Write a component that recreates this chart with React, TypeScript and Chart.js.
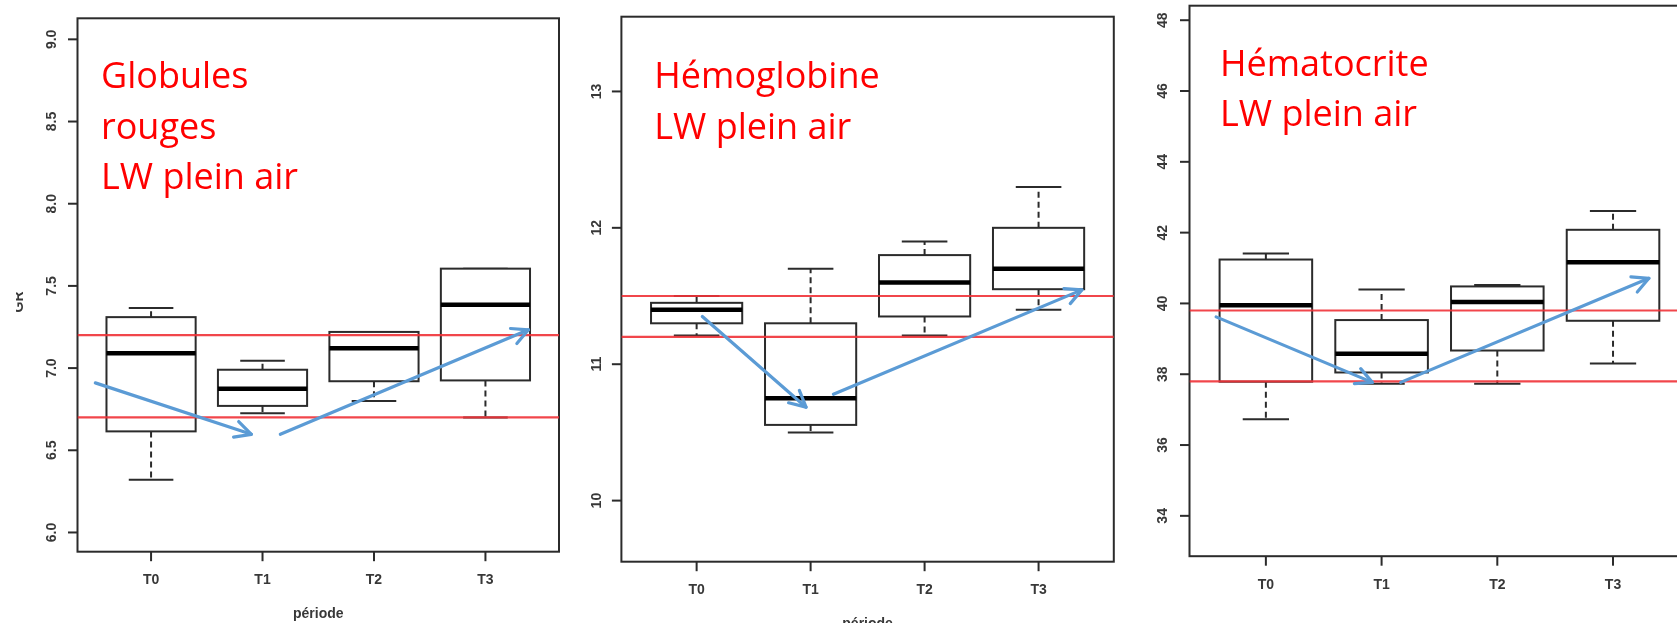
import React, { useEffect, useRef } from "react";
import { Chart, registerables } from "chart.js";

Chart.register(...registerables);

// ---------------- DATA ----------------
const categories = ["T0", "T1", "T2", "T3"];
const catPositions = [1, 2, 3, 4];

// Globules rouges
const grMin = [6.32, 6.725, 6.8, 6.7];
const grQ1 = [6.615, 6.77, 6.92, 6.925];
const grMedian = [7.09, 6.875, 7.12, 7.385];
const grQ3 = [7.31, 6.99, 7.22, 7.605];
const grMax = [7.365, 7.045, 7.22, 7.605];
const grRefLines = [7.2, 6.7];
const grTicks = [6.0, 6.5, 7.0, 7.5, 8.0, 8.5, 9.0];
const grTickLabels = ["6.0", "6.5", "7.0", "7.5", "8.0", "8.5", "9.0"];
const grArrow1 = [{ x: 0.5, y: 6.91 }, { x: 1.9, y: 6.597 }];
const grArrow2 = [{ x: 2.16, y: 6.597 }, { x: 4.386, y: 7.233 }];
const grTitle = ["Globules", "rouges", "LW plein air"];

// Hémoglobine
const hbMin = [11.21, 10.5, 11.21, 11.4];
const hbQ1 = [11.3, 10.555, 11.35, 11.55];
const hbMedian = [11.4, 10.75, 11.6, 11.7];
const hbQ3 = [11.45, 11.3, 11.8, 12.0];
const hbMax = [11.5, 11.7, 11.9, 12.3];
const hbRefLines = [11.5, 11.2];
const hbTicks = [10, 11, 12, 13];
const hbTickLabels = ["10", "11", "12", "13"];
const hbArrow1 = [{ x: 1.05, y: 11.35 }, { x: 1.96, y: 10.685 }];
const hbArrow2 = [{ x: 2.2, y: 10.78 }, { x: 4.38, y: 11.545 }];
const hbTitle = ["Hémoglobine", "LW plein air"];

// Hématocrite
const htMin = [36.73, 37.73, 37.73, 38.3];
const htQ1 = [37.79, 38.05, 38.67, 39.51];
const htMedian = [39.95, 38.58, 40.04, 41.16];
const htQ3 = [41.24, 39.53, 40.48, 42.08];
const htMax = [41.41, 40.39, 40.52, 42.61];
const htRefLines = [39.8, 37.8];
const htTicks = [34, 36, 38, 40, 42, 44, 46, 48];
const htTickLabels = ["34", "36", "38", "40", "42", "44", "46", "48"];
const htArrow1 = [{ x: 0.57, y: 39.62 }, { x: 1.92, y: 37.77 }];
const htArrow2 = [{ x: 2.165, y: 37.77 }, { x: 4.31, y: 40.71 }];
const htTitle = ["Hématocrite", "LW plein air"];

const xAxisTitle = "période";
const yAxisTitleGR = "GR";

// ---------------- STYLE / LAYOUT ----------------
const H = 623;
const X_MIN = 0.34;
const X_MAX = 4.66;
const BLUE = "#5b9bd5";
const RED_LINE = "rgba(240,50,55,0.9)";
const AXIS_COLOR = "#2b2b2b";
const LABEL_FONT = 'bold 14px "Liberation Sans", Arial, sans-serif';
const TITLE_FONT = '36px "Open Sans", sans-serif';

type Panel = {
  left: number;
  width: number;
  area: { l: number; t: number; r: number; b: number };
  yMin: number;
  yMax: number;
  mins: number[];
  q1: number[];
  med: number[];
  q3: number[];
  maxs: number[];
  refs: number[];
  ticks: number[];
  tickLabels: string[];
  arrows: { x: number; y: number }[][];
  title: string[];
  titleX: number;
  titleY: number;
  titleLineH: number;
  yLabelGap: number;
  xTitle?: string;
  yTitle?: string;
};

const panels: Panel[] = [
  {
    left: 0, width: 562,
    area: { l: 77.5, t: 18.3, r: 559, b: 551.7 },
    yMin: 5.883, yMax: 9.128,
    mins: grMin, q1: grQ1, med: grMedian, q3: grQ3, maxs: grMax,
    refs: grRefLines, ticks: grTicks, tickLabels: grTickLabels,
    arrows: [grArrow1, grArrow2],
    title: grTitle, titleX: 101, titleY: 88.2, titleLineH: 50.3,
    yLabelGap: 25.7, xTitle: xAxisTitle, yTitle: yAxisTitleGR,
  },
  {
    left: 562, width: 556,
    area: { l: 59.4, t: 16.7, r: 551.8, b: 561.7 },
    yMin: 9.552, yMax: 13.548,
    mins: hbMin, q1: hbQ1, med: hbMedian, q3: hbQ3, maxs: hbMax,
    refs: hbRefLines, ticks: hbTicks, tickLabels: hbTickLabels,
    arrows: [hbArrow1, hbArrow2],
    title: hbTitle, titleX: 92.3, titleY: 88.2, titleLineH: 50.8,
    yLabelGap: 24.4, xTitle: xAxisTitle,
  },
  {
    left: 1120, width: 575,
    area: { l: 69.5, t: 5.7, r: 569.4, b: 556.2 },
    yMin: 32.86, yMax: 48.41,
    mins: htMin, q1: htQ1, med: htMedian, q3: htQ3, maxs: htMax,
    refs: htRefLines, ticks: htTicks, tickLabels: htTickLabels,
    arrows: [htArrow1, htArrow2],
    title: htTitle, titleX: 100, titleY: 75.5, titleLineH: 50.8,
    yLabelGap: 26.5,
  },
];

// ---------------- PLUGIN ----------------
const boxPlotPlugin = {
  id: "boxPlotPanel",
  beforeDatasetsDraw(chart: any, _args: any, opts: any) {
    const p: Panel = opts.panel;
    if (!p) return;
    const { ctx, chartArea } = chart;
    const xs = chart.scales.x;
    const ys = chart.scales.y;
    ctx.save();

    // boxes
    for (let i = 0; i < categories.length; i++) {
      const cx = xs.getPixelForValue(catPositions[i]);
      const half = xs.getPixelForValue(catPositions[i] + 0.4) - cx;
      const cap = half / 2;
      const yMin = ys.getPixelForValue(p.mins[i]);
      const yQ1 = ys.getPixelForValue(p.q1[i]);
      const yMed = ys.getPixelForValue(p.med[i]);
      const yQ3 = ys.getPixelForValue(p.q3[i]);
      const yMax = ys.getPixelForValue(p.maxs[i]);

      ctx.strokeStyle = AXIS_COLOR;
      ctx.lineWidth = 2;
      ctx.setLineDash([6, 4]);
      ctx.beginPath();
      ctx.moveTo(cx, yQ3);
      ctx.lineTo(cx, yMax);
      ctx.moveTo(cx, yQ1);
      ctx.lineTo(cx, yMin);
      ctx.stroke();
      ctx.setLineDash([]);

      ctx.beginPath();
      ctx.moveTo(cx - cap, yMax);
      ctx.lineTo(cx + cap, yMax);
      ctx.moveTo(cx - cap, yMin);
      ctx.lineTo(cx + cap, yMin);
      ctx.stroke();

      ctx.fillStyle = "#ffffff";
      ctx.fillRect(cx - half, yQ3, 2 * half, yQ1 - yQ3);
      ctx.strokeRect(cx - half, yQ3, 2 * half, yQ1 - yQ3);

      ctx.strokeStyle = "#000000";
      ctx.lineWidth = 4.5;
      ctx.beginPath();
      ctx.moveTo(cx - half, yMed);
      ctx.lineTo(cx + half, yMed);
      ctx.stroke();
    }

    // frame
    ctx.strokeStyle = AXIS_COLOR;
    ctx.lineWidth = 2;
    ctx.strokeRect(chartArea.left, chartArea.top, chartArea.right - chartArea.left, chartArea.bottom - chartArea.top);

    // y ticks and labels
    ctx.fillStyle = "#383838";
    ctx.font = LABEL_FONT;
    for (let i = 0; i < p.ticks.length; i++) {
      const yy = ys.getPixelForValue(p.ticks[i]);
      ctx.beginPath();
      ctx.moveTo(chartArea.left, yy);
      ctx.lineTo(chartArea.left - 9.5, yy);
      ctx.stroke();
      ctx.save();
      ctx.translate(chartArea.left - p.yLabelGap, yy);
      ctx.rotate(-Math.PI / 2);
      ctx.textAlign = "center";
      ctx.textBaseline = "middle";
      ctx.fillText(p.tickLabels[i], 0, 0);
      ctx.restore();
    }

    // x ticks and labels
    for (let i = 0; i < categories.length; i++) {
      const xx = xs.getPixelForValue(catPositions[i]);
      ctx.beginPath();
      ctx.moveTo(xx, chartArea.bottom);
      ctx.lineTo(xx, chartArea.bottom + 9.5);
      ctx.stroke();
      ctx.textAlign = "center";
      ctx.textBaseline = "middle";
      ctx.fillText(categories[i], xx, chartArea.bottom + 28.5);
    }

    if (p.xTitle) {
      ctx.textAlign = "center";
      ctx.textBaseline = "middle";
      ctx.fillText(p.xTitle, (chartArea.left + chartArea.right) / 2, chartArea.bottom + 62.5);
    }
    if (p.yTitle) {
      ctx.save();
      ctx.beginPath();
      ctx.rect(16, 0, 40, H);
      ctx.clip();
      ctx.translate(19, (chartArea.top + chartArea.bottom) / 2 + 17);
      ctx.rotate(-Math.PI / 2);
      ctx.textAlign = "center";
      ctx.textBaseline = "middle";
      ctx.fillText(p.yTitle, 0, 0);
      ctx.restore();
    }
    ctx.restore();
  },
  afterDatasetsDraw(chart: any, _args: any, opts: any) {
    const p: Panel = opts.panel;
    if (!p) return;
    const { ctx } = chart;
    ctx.save();
    // arrow heads
    chart.data.datasets.forEach((ds: any, di: number) => {
      if (!ds.isArrow) return;
      const meta = chart.getDatasetMeta(di);
      const a = meta.data[0];
      const b = meta.data[meta.data.length - 1];
      const ang = Math.atan2(b.y - a.y, b.x - a.x);
      const len = 18;
      const spread = (27 * Math.PI) / 180;
      ctx.strokeStyle = BLUE;
      ctx.lineWidth = 3.2;
      ctx.lineCap = "round";
      ctx.lineJoin = "round";
      ctx.beginPath();
      ctx.moveTo(b.x - len * Math.cos(ang - spread), b.y - len * Math.sin(ang - spread));
      ctx.lineTo(b.x, b.y);
      ctx.lineTo(b.x - len * Math.cos(ang + spread), b.y - len * Math.sin(ang + spread));
      ctx.stroke();
    });

    // red annotation title
    ctx.fillStyle = "#ff0000";
    ctx.font = TITLE_FONT;
    ctx.textAlign = "left";
    ctx.textBaseline = "alphabetic";
    p.title.forEach((line, i) => {
      ctx.fillText(line, p.titleX, p.titleY + i * p.titleLineH);
    });
    ctx.restore();
  },
};

// ---------------- COMPONENTS ----------------
function PanelChart({ p }: { p: Panel }) {
  const ref = useRef<HTMLCanvasElement | null>(null);
  useEffect(() => {
    if (!ref.current) return;
    const datasets: any[] = [];
    p.arrows.forEach((arr) => {
      datasets.push({
        data: arr,
        isArrow: true,
        showLine: true,
        borderColor: BLUE,
        borderWidth: 3.2,
        borderCapStyle: "round",
        pointRadius: 0,
        order: 0,
        clip: false,
      });
    });
    p.refs.forEach((v) => {
      datasets.push({
        data: [{ x: X_MIN, y: v }, { x: X_MAX, y: v }],
        showLine: true,
        borderColor: RED_LINE,
        borderWidth: 2.2,
        pointRadius: 0,
        order: 1,
      });
    });
    const chart = new Chart(ref.current, {
      type: "scatter",
      data: { datasets },
      options: {
        animation: false,
        responsive: false,
        devicePixelRatio: 1,
        layout: {
          padding: {
            left: p.area.l,
            top: p.area.t,
            right: p.width - p.area.r,
            bottom: H - p.area.b,
          },
        },
        scales: {
          x: { type: "linear", display: false, min: X_MIN, max: X_MAX },
          y: { type: "linear", display: false, min: p.yMin, max: p.yMax },
        },
        plugins: {
          legend: { display: false },
          tooltip: { enabled: false },
          title: { display: false },
          boxPlotPanel: { panel: p },
        } as any,
        events: [],
      },
      plugins: [boxPlotPlugin],
    });
    return () => chart.destroy();
  }, [p]);
  return (
    <canvas
      ref={ref}
      width={p.width}
      height={H}
      style={{ position: "absolute", left: p.left, top: 0, width: p.width, height: H }}
    />
  );
}

export default function App() {
  return (
    <div
      style={{
        position: "fixed",
        left: 0,
        top: 0,
        width: 1677,
        height: H,
        overflow: "hidden",
        background: "#ffffff",
      }}
    >
      {panels.map((p, i) => (
        <PanelChart key={i} p={p} />
      ))}
    </div>
  );
}
